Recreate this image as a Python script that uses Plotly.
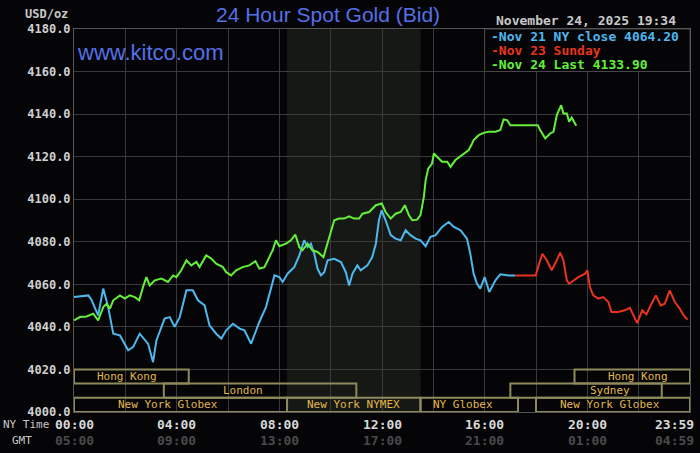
import plotly.graph_objects as go

# --- data (hours after midnight NY time, price USD/oz) ---
nov21_t = [0.00, 0.56, 0.69, 0.94, 1.14, 1.33, 1.53, 1.79, 2.11, 2.30, 2.56, 2.89, 3.08, 3.21,
           3.53, 3.73, 3.92, 4.12, 4.38, 4.63, 4.83, 5.09, 5.28, 5.54, 5.74, 5.93, 6.19, 6.45,
           6.64, 6.90, 7.22, 7.48, 7.81, 8.00, 8.13, 8.32, 8.58, 8.78, 8.97, 9.10, 9.23, 9.36,
           9.49, 9.62, 9.75, 9.88, 10.14, 10.40, 10.59, 10.72, 10.85, 11.04, 11.17, 11.43, 11.62,
           11.76, 11.88, 11.99, 12.14, 12.34, 12.53, 12.73, 12.92, 13.11, 13.31, 13.50, 13.70,
           13.89, 14.09, 14.34, 14.60, 14.80, 15.06, 15.31, 15.44, 15.57, 15.70, 15.83, 16.00,
           16.18, 16.42, 16.61, 16.93, 17.19]
nov21_p = [4054.0, 4054.8, 4052.5, 4045.4, 4058.0, 4049.3, 4036.8, 4036.0, 4029.0, 4030.5, 4036.8,
           4032.0, 4023.4, 4033.6, 4043.9, 4044.6, 4040.0, 4044.6, 4057.2, 4057.2, 4052.5, 4050.1,
           4040.7, 4036.8, 4034.5, 4038.4, 4041.5, 4039.2, 4038.4, 4032.1, 4042.3, 4049.3, 4064.2,
           4063.4, 4061.1, 4065.0, 4068.1, 4073.6, 4080.7, 4077.5, 4079.1, 4074.4, 4067.3, 4064.2,
           4065.7, 4071.3, 4072.0, 4070.5, 4065.7, 4059.5, 4065.0, 4068.9, 4066.6, 4068.9, 4072.8,
           4079.1, 4090.1, 4094.8, 4090.1, 4083.1, 4081.5, 4080.7, 4085.4, 4083.1, 4081.5, 4080.7,
           4077.9, 4082.3, 4083.1, 4087.0, 4089.3, 4087.0, 4085.4, 4081.5, 4074.4, 4065.0, 4060.3,
           4058.0, 4063.4, 4056.4, 4061.9, 4064.7, 4064.2, 4064.2]

nov23_t = [17.19, 17.99, 18.10, 18.25, 18.42, 18.61, 18.81, 18.94, 19.07, 19.20, 19.29, 19.46,
           19.65, 19.91, 20.00, 20.10, 20.23, 20.43, 20.62, 20.82, 20.94, 21.20, 21.46, 21.66,
           21.79, 21.94, 22.14, 22.30, 22.50, 22.67, 22.86, 23.02, 23.21, 23.41, 23.60, 23.73, 23.90]
nov23_p = [4064.2, 4064.2, 4068.9, 4074.4, 4071.3, 4066.6, 4071.3, 4074.9, 4071.3, 4061.9, 4060.3,
           4061.9, 4063.4, 4065.0, 4066.6, 4058.7, 4054.8, 4053.3, 4054.0, 4051.7, 4047.0, 4047.0,
           4047.8, 4049.0, 4045.4, 4041.8, 4047.8, 4045.9, 4050.9, 4054.8, 4050.1, 4050.9, 4057.2,
           4051.7, 4048.6, 4045.9, 4043.4]

nov24_t = [0.00, 0.23, 0.49, 0.75, 0.94, 1.14, 1.27, 1.40, 1.53, 1.79, 1.98, 2.17, 2.37, 2.54,
           2.69, 2.82, 2.95, 3.15, 3.41, 3.66, 3.86, 3.99, 4.18, 4.38, 4.57, 4.77, 4.89, 5.15,
           5.35, 5.54, 5.80, 5.93, 6.12, 6.32, 6.57, 6.83, 7.07, 7.22, 7.42, 7.61, 7.74, 7.87,
           8.00, 8.26, 8.45, 8.62, 8.78, 8.90, 9.10, 9.29, 9.49, 9.72, 9.94, 10.14, 10.33, 10.52,
           10.72, 10.91, 11.11, 11.24, 11.50, 11.76, 11.99, 12.14, 12.34, 12.53, 12.73, 12.89,
           13.05, 13.18, 13.37, 13.50, 13.63, 13.70, 13.80, 13.95, 14.02, 14.19, 14.34, 14.54,
           14.67, 14.86, 15.12, 15.38, 15.51, 15.57, 15.77, 15.96, 16.16, 16.42, 16.61, 16.74,
           16.87, 17.00, 17.45, 18.07, 18.16, 18.36, 18.55, 18.68, 18.81, 18.90, 18.98, 19.07,
           19.20, 19.29, 19.39, 19.52, 19.57]
nov24_p = [4043.1, 4044.6, 4044.9, 4046.2, 4043.1, 4049.3, 4050.9, 4048.6, 4052.5, 4054.8, 4053.3,
           4054.8, 4054.0, 4052.5, 4058.8, 4063.4, 4059.5, 4061.9, 4062.7, 4061.1, 4064.2, 4063.4,
           4066.6, 4071.3, 4068.9, 4070.5, 4068.1, 4073.6, 4072.1, 4069.7, 4068.1, 4065.7, 4064.2,
           4066.6, 4068.1, 4068.9, 4070.9, 4067.4, 4068.1, 4072.8, 4076.0, 4080.7, 4077.9, 4079.1,
           4080.7, 4083.4, 4077.5, 4076.0, 4079.1, 4076.0, 4075.2, 4072.8, 4082.3, 4090.1, 4090.9,
           4090.9, 4092.0, 4090.9, 4090.9, 4093.2, 4094.0, 4097.2, 4098.0, 4094.0, 4090.9, 4093.2,
           4094.0, 4097.2, 4092.5, 4090.1, 4090.4, 4092.5, 4101.1, 4108.9, 4114.4, 4116.8, 4121.5,
           4119.2, 4117.6, 4117.6, 4115.2, 4118.4, 4120.7, 4123.1, 4126.2, 4127.8, 4130.1, 4131.2,
           4131.7, 4131.7, 4132.5, 4137.5, 4137.2, 4134.8, 4134.8, 4134.8, 4132.5, 4128.6, 4130.9,
           4131.7, 4139.5, 4141.9, 4144.2, 4140.3, 4140.3, 4136.4, 4138.4, 4135.6, 4134.5]

legend_text = ['-Nov 21 NY close 4064.20', '-Nov 23 Sunday', '-Nov 24 Last 4133.90']

# x tick labels (NY time / GMT)
tick_hours = [0, 4, 8, 12, 16, 20, 24]
tick_ny = ['00:00', '04:00', '08:00', '12:00', '16:00', '20:00', '23:59']
tick_gmt = ['05:00', '09:00', '13:00', '17:00', '21:00', '01:00', '04:59']

# trading sessions along the bottom (row 0 = top row)
sess_name = ['Hong Kong', 'London', 'New York Globex', 'New York NYMEX', 'NY Globex',
             'Sydney', 'Hong Kong', 'New York Globex']
sess_start = [0.0, 3.5, 0.0, 8.3, 13.5, 17.0, 19.5, 18.0]
sess_end = [4.47, 11.0, 8.3, 13.5, 17.3, 22.9, 24.0, 24.0]
sess_row = [0, 1, 2, 2, 2, 1, 0, 2]
sess_label_x = [2.06, 6.6, 3.65, 10.87, 15.15, 20.89, 21.98, 20.89]

# colours
bg = '#050507'
grid = '#3a3a3a'
blue = '#4db8ee'
red = '#e8341f'
green = '#64f03a'
gold = '#e2b847'
mono = 'DejaVu Sans Mono'

fig = go.Figure()
fig.add_trace(go.Scatter(x=nov21_t, y=nov21_p, mode='lines', line=dict(color=blue, width=2)))
fig.add_trace(go.Scatter(x=nov23_t, y=nov23_p, mode='lines', line=dict(color=red, width=2)))
fig.add_trace(go.Scatter(x=nov24_t, y=nov24_p, mode='lines', line=dict(color=green, width=2)))

# NYMEX open hours shading
fig.add_shape(type='rect', xref='x', yref='y', x0=8.3, x1=13.5, y0=4000, y1=4180,
              fillcolor='#161816', line_width=0, layer='below')

# session boxes
row_edges = [4020, 4013.4, 4006.7, 4000]
row_mid = [4016.7, 4010.1, 4003.3]
for name, s, e, r, lx in zip(sess_name, sess_start, sess_end, sess_row, sess_label_x):
    fig.add_shape(type='rect', xref='x', yref='y', x0=s, x1=e,
                  y0=row_edges[r + 1], y1=row_edges[r],
                  line=dict(color='#8f8a5c', width=2), fillcolor='rgba(0,0,0,0)')
    fig.add_annotation(x=lx, y=row_mid[r], xref='x', yref='y', text=name, showarrow=False,
                       font=dict(family=mono, size=11, color=gold))

# legend box in the top right corner
fig.add_shape(type='rect', xref='x', yref='y', x0=16, x1=24, y0=4160, y1=4180,
              fillcolor=bg, line=dict(color='#4a4a4a', width=1), layer='above')
for i, (txt, col) in enumerate(zip(legend_text, [blue, red, green])):
    fig.add_annotation(x=16, y=1, xref='x', yref='paper', xanchor='left', yanchor='middle',
                       xshift=4, yshift=-7 - 14 * i, text='<b>' + txt + '</b>', showarrow=False,
                       font=dict(family=mono, size=13, color=col))

# x tick labels, two rows
for h, ny, gmt in zip(tick_hours, tick_ny, tick_gmt):
    anchor = 'right' if h == 24 else 'center'
    shift = 6 if h == 24 else 0
    fig.add_annotation(x=h, y=0, xref='x', yref='paper', xanchor=anchor, yanchor='middle',
                       xshift=shift, yshift=-12, text='<b>' + ny + '</b>', showarrow=False,
                       font=dict(family=mono, size=13, color='#d8d8d8'))
    fig.add_annotation(x=h, y=0, xref='x', yref='paper', xanchor=anchor, yanchor='middle',
                       xshift=shift, yshift=-28, text='<b>' + gmt + '</b>', showarrow=False,
                       font=dict(family=mono, size=13, color='#4a4a4a'))

fig.add_annotation(x=0, y=0, xref='paper', yref='paper', xanchor='right', yanchor='middle',
                   xshift=-23, yshift=-12, text='NY Time', showarrow=False,
                   font=dict(family=mono, size=11, color='#c8c8c8'))
fig.add_annotation(x=0, y=0, xref='paper', yref='paper', xanchor='center', yanchor='middle',
                   xshift=-52, yshift=-28, text='GMT', showarrow=False,
                   font=dict(family=mono, size=11, color='#c8c8c8'))

# titles and other texts
fig.add_annotation(x=0, y=1, xref='paper', yref='paper', xanchor='center', yanchor='middle',
                   xshift=-28, yshift=15, text='<b>USD/oz</b>', showarrow=False,
                   font=dict(family=mono, size=12, color='#c8c8c8'))
fig.add_annotation(x=0.412, y=1, xref='paper', yref='paper', xanchor='center', yanchor='middle',
                   yshift=15, text='24 Hour Spot Gold (Bid)', showarrow=False,
                   font=dict(family='Liberation Sans', size=21, color='#5670e8'))
fig.add_annotation(x=0, y=1, xref='paper', yref='paper', xanchor='left', yanchor='middle',
                   xshift=1, yshift=-23, text='www.kitco.com', showarrow=False,
                   font=dict(family='Liberation Sans', size=22, color='#5670e8'))
fig.add_annotation(x=1, y=1, xref='paper', yref='paper', xanchor='right', yanchor='middle',
                   xshift=-12, yshift=9, text='<b>November 24, 2025 19:34</b>', showarrow=False,
                   font=dict(family=mono, size=13, color='#c8c8c8'))

# format figure
fig.update_layout(width=700, height=453, showlegend=False,
                  paper_bgcolor=bg, plot_bgcolor=bg,
                  margin=dict(l=74, r=10, t=29, b=41))
fig.update_xaxes(range=[0, 24], tickvals=list(range(0, 24, 2)), showticklabels=False,
                 showgrid=True, gridcolor=grid, gridwidth=1, zeroline=False,
                 showline=True, linecolor='#555555', mirror=True, ticks='')
fig.update_yaxes(range=[4000, 4180], tickvals=list(range(4000, 4181, 20)), tickformat='.1f',
                 tickfont=dict(family=mono, size=12, color='#d0d0d0', weight='bold'),
                 showgrid=True, gridcolor=grid, gridwidth=1, zeroline=False,
                 showline=True, linecolor='#555555', mirror=True, ticks='')

# page has a default body margin, drop it so the chart sits at the corner
fig.write_html('out.html', config={'displayModeBar': False},
               post_script="document.body.style.margin='0';document.body.style.background='#050507';")
